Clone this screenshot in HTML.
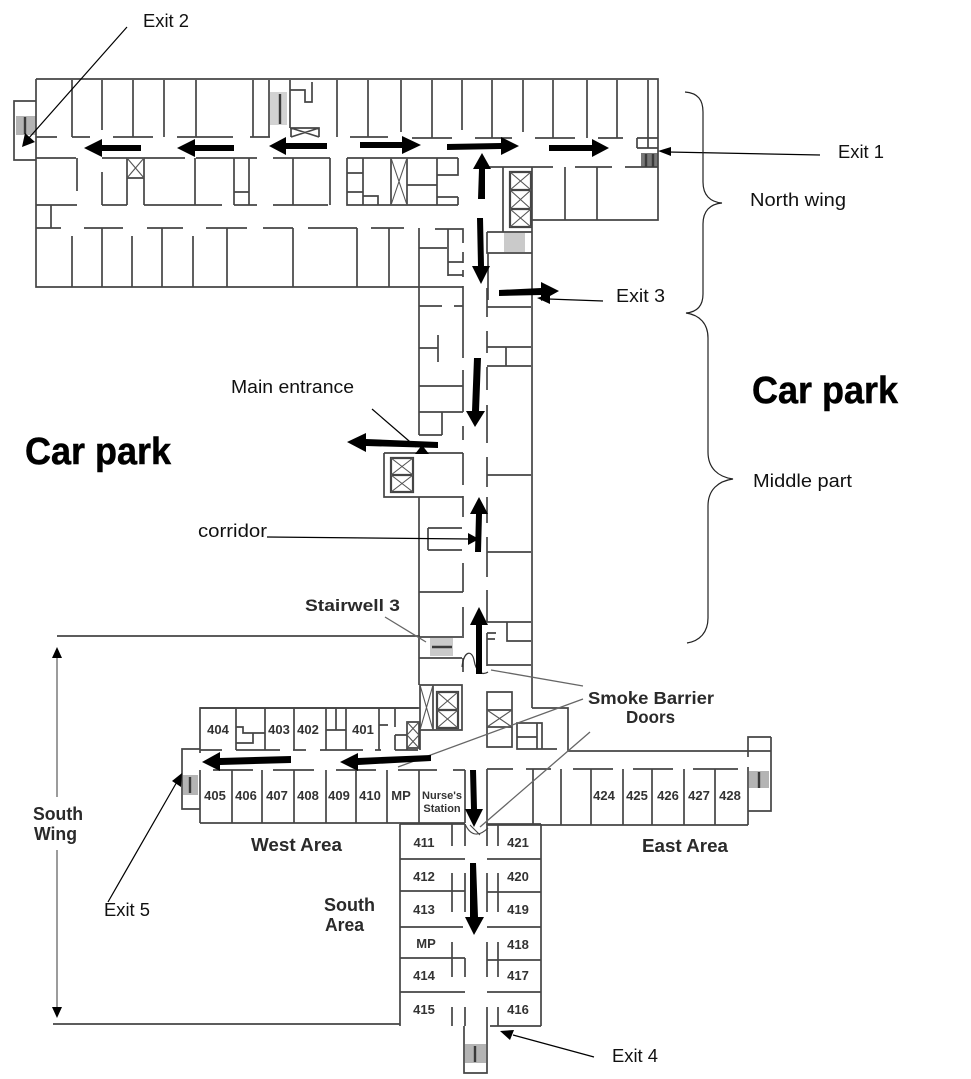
<!DOCTYPE html>
<html><head><meta charset="utf-8"><title>Floor plan</title>
<style>html,body{margin:0;padding:0;background:#fff}svg{display:block}
.w{fill:none;stroke:#454545;stroke-width:1.7}
.x{fill:none;stroke:#555;stroke-width:1.1}
.e{fill:none;stroke:#3a3a3a;stroke-width:2.4}
.g{fill:#b4b4b4;stroke:none}
.t{font-family:"Liberation Sans",sans-serif;font-size:18px;fill:#111}
.b{font-family:"Liberation Sans",sans-serif;font-weight:bold;fill:#2a2a2a}
.n{font-family:"Liberation Sans",sans-serif;font-weight:bold;font-size:13px;fill:#333;text-anchor:middle}
.a{fill:#000;stroke:none}
.l{fill:none;stroke:#000;stroke-width:1.2}
.s{fill:none;stroke:#666;stroke-width:1.3}
</style></head><body>
<svg width="971" height="1079" viewBox="0 0 971 1079" xmlns="http://www.w3.org/2000/svg">
<rect width="971" height="1079" fill="#fff"/>

<!-- gray stairs -->
<rect class="g" x="16" y="116" width="20" height="19"/>
<rect class="g" x="270" y="92" width="17" height="33" opacity=".6"/>
<rect class="g" x="641" y="153" width="17" height="14" style="fill:#777"/>
<rect class="g" x="504" y="233" width="21" height="19" opacity=".7"/>
<rect class="g" x="430" y="638" width="23" height="18" opacity=".7"/>
<rect class="g" x="183" y="775" width="15" height="20"/>
<rect class="g" x="749" y="771" width="20" height="17"/>
<rect class="g" x="465" y="1044" width="21" height="19"/>

<!-- North wing -->
<path class="w" d="M36 79H658V220H532M36 79V287H463
M36 137H57M72 137H90M113 137H153M177 137H233M250 137H270M290 128H319V137M291 128V137M319 128L291 137M291 128L319 137
M72 80V137M102 80V130M133 80V137M164 80V137M196 80V137M253 80V137M269 80V137M290 80V128M337 80V137
M290 90H305V102H312V82
M350 137H388M412 138H452M475 138H512M535 138H575M598 138H623M637 138H658M637 148H658M637 138V148
M368 80V137M401 80V132M432 80V138M462 80V130M492 80V138M523 80V132M553 80V138M587 80V138M617 80V138M648 80V148
M36 158H76M102 158H185M196 158H257M273 158H330
M77 158V191M102 172V205M127 158V205M144 158V205M127 178H144M195 158V205M234 158V205M249 158V205M234 192H249M293 158V205M330 158V205
M36 205H77M102 205H127M144 205H222M234 205H257M273 205H328
M51 205V228M36 228H61M84 228H123M147 228H183M206 228H247M263 228H293M308 228H357M371 228H404
M72 236V287M102 228V287M132 236V287M162 228V287M193 236V287M227 228V287M293 228V287M357 228V287M389 228V287
M347 158H458M347 158V205H458M458 158V175H437M458 197V205M437 197H458M363 158V205M347 173H363M347 192H363M391 158V205M407 158V205M407 185H437M437 158V205M363 196H378V205
M483 167H553M575 167H612M625 167H658M565 167V220M597 167V220M503 167V232"/>
<path class="x" d="M391 158L407 205M407 158L391 205M127 158L144 178M144 158L127 178"/>
<!-- Left exit stub -->
<path class="w" d="M36 101H14V160H36"/>
<path class="e" d="M25 117V134M280 94V124M646 154V167M653 154V167"/>
<!-- elevators north -->
<path class="w" d="M510 172H531V227H510ZM510 190H531M510 209H531" style="stroke-width:2.2"/>
<path class="x" d="M510 172L531 190M531 172L510 190M510 190L531 209M531 190L510 209M510 209L531 227M531 209L510 227"/>
<path class="w" d="M487 232H532V253H487V232M488 253V300M532 167V708"/>

<!-- Middle part -->
<path class="w" d="M419 228V435M435 229H463V243M463 252V263M463 270V277M419 248H447M448 229V276M448 262H463M448 275H463
M463 286V358M463 370V412M463 426V440M463 453V485M463 496V517M463 563V592M463 607V638M463 658V672
M419 306H442M454 306H463M419 348H438M438 335V362M419 386H463M419 412H463M442 412V435M419 435H442
M384 453H463M384 453V497H463M419 497V685
M487 288V317M487 331V353M487 367V390M487 405V443M487 457V487M487 497V523M487 537V577M487 590V622M487 633V666
M487 307H531M487 347H531M487 366H531M506 347V366M487 475H531M487 552H531M487 622H531M507 622V641H531M487 665H531
M487 633H496M487 639H495
M428 528H462M428 550H462M428 528V550
M419 592H463M419 637H462M419 658H462"/>
<path class="w" d="M391 458H413V475H391ZM391 475H413V492H391Z" style="stroke-width:2.2"/>
<path class="x" d="M391 458L413 475M413 458L391 475M391 475L413 492M413 475L391 492"/>
<path class="e" d="M432 647H452"/>
<path class="x" d="M462 667C464 650 472 650 474 660C476 672 482 676 488 672" style="stroke:#333;stroke-width:1.2"/>

<!-- elevator cluster -->
<path class="w" d="M420 685H462V730H420ZM433 685V730M420 708H200V753M420 730V750"/>
<path class="w" d="M437 692H458V710H437ZM437 710H458V728H437Z" style="stroke-width:2.2"/>
<path class="x" d="M437 692L458 710M458 692L437 710M437 710L458 728M458 710L437 728M420 685L433 730M433 685L420 730"/>
<path class="w" d="M487 692H512V747H487ZM487 710H512M487 727H512M517 723H542V749H517ZM517 737H537M537 723V749M542 749H557M532 708H568V751"/>
<path class="x" d="M487 710L512 727M512 710L487 727"/>

<!-- West -->
<path class="w" d="M200 708H418M200 823H465M200 750H222M236 750H280M293 750H306M320 750H363M375 750H381M395 750H418
M236 708V750M265 708V750M294 708V750M326 708V750M336 708V730M346 708V750M326 730H346M379 708V750M379 725H388M395 708V727
M236 727H243V733H265M253 733V743H236
M395 735H407V750M395 735V750M407 722H419V748H407Z
M200 770V823M213 770H253M273 770H314M336 770H376M398 770H437M453 770H465M232 770V823M262 770V823M294 770V823M326 770V823M356 770V823M387 770V823M419 770V823M465 770V823"/>
<path class="x" d="M407 722L419 735M419 722L407 735M407 735L419 748M419 735L407 748"/>
<path class="w" d="M200 749H182V809H200"/>
<path class="e" d="M190 777V793M759 772V788M475 1046V1062"/>

<!-- East -->
<path class="w" d="M568 751H771M771 737H748V757M771 737V811H748M748 767V825M487 825H748
M487 769H513M526 769H551M573 769H613M633 769H673M693 769H738M487 769V825M533 769V825M561 769V825M591 769V825M623 769V825M652 769V825M684 769V825M715 769V825"/>

<!-- South -->
<path class="w" d="M400 824V1026M400 824H465M487 824H541M541 824V1026M400 859H465M487 859H541M400 891H465M487 892H541M400 927H463M487 927H541M400 958H465M487 960H541M400 992H465M487 992H541M490 1026H541
M452 824V846M465 824V846M487 824V846M498 824V846M452 873V912M465 873V912M487 873V912M498 873V912
M452 942V977M465 958V977M487 942V977M498 942V977M452 1007V1026M465 1007V1026M487 1007V1026M498 1007V1026
M464 1026V1073H487V1026"/>
<path class="x" d="M465 824C470 835 478 838 488 828M470 825L480 835" style="stroke:#444"/>

<!-- dimension -->
<path class="w" d="M57 636H420M53 1024H400"/>
<path class="s" d="M57 656V797M57 850V1008"/>
<path class="a" d="M57 647L52 658H62ZM57 1018L52 1007H62Z"/>

<!-- gray leaders -->
<path class="s" d="M583 699L398 767M590 732L480 827M583 686L491 670M385 617L426 642"/>

<!-- thick arrows -->
<g class="a">
<path d="M84 148L102 139V145H141V151H102V157Z"/>
<path d="M177 148L195 139V145H234V151H195V157Z"/>
<path d="M269 146L286 137V143H327V149H286V155Z"/>
<path d="M421 145L402 136V142H360V148H402V154Z"/>
<path d="M519 146L501 137V143L447 144V150L501 149V155Z"/>
<path d="M609 148L592 139V145H549V151H592V157Z"/>
<path d="M482 153L491 169H485L485 199H478L479 169H473Z"/>
<path d="M481 284L472 266H478L477 218H483L484 266H490Z"/>
<path d="M559 291L541 282V288L499 290V296L541 295V301Z"/>
<path d="M475 427L466 411H472L474 358H481L479 411H485Z"/>
<path d="M347 442L366 433V439L438 442V448L366 446V452Z"/>
<path d="M479 497L488 514H482L481 552H475L476 514H470Z"/>
<path d="M479 607L488 625H482V674H476V625H470Z"/>
<path d="M202 762L220 752V758L291 756V763L220 765V771Z"/>
<path d="M340 762L358 753V758L431 755V761L358 765V771Z"/>
<path d="M474 827L465 809H471L470 770H476L477 809H483Z"/>
<path d="M474 935L465 917H470V863H476L478 917H484Z"/>
</g>

<!-- thin annotation arrows -->
<path class="l" d="M127 27L28 139M820 155L668 152M603 301L548 299M372 409L416 447M267 537L470 539M108 902L178 780M594 1057L513 1035"/>
<g class="a">
<path d="M22 147L25 133L35 142Z"/>
<path d="M658 151L671 147V156Z"/>
<path d="M537 298L550 294V304Z"/>
<path d="M415 454H429L422 445Z"/>
<path d="M479 539L468 533V545Z"/>
<path d="M182 773L172 781L181 787Z"/>
<path d="M500 1031L514 1030L510 1040Z"/>
</g>

<!-- braces -->
<path class="l" style="stroke:#222" d="M685 92C698 93 703 100 703 112V182C703 195 710 202 722 203C710 204 703 211 703 224V294C703 306 697 312 686 313C700 315 708 324 708 338V452C708 468 718 477 733 479C718 481 708 490 708 506V618C708 632 700 641 687 643"/>

<!-- labels -->
<text class="t" x="143" y="27" textLength="46" lengthAdjust="spacingAndGlyphs">Exit 2</text>
<text class="t" x="838" y="158" textLength="46" lengthAdjust="spacingAndGlyphs">Exit 1</text>
<text class="t" x="750" y="206" textLength="96" lengthAdjust="spacingAndGlyphs">North wing</text>
<text class="t" x="616" y="302" textLength="49" lengthAdjust="spacingAndGlyphs">Exit  3</text>
<text class="t" x="231" y="393" textLength="123" lengthAdjust="spacingAndGlyphs">Main entrance</text>
<text class="t" x="753" y="487" textLength="99" lengthAdjust="spacingAndGlyphs">Middle part</text>
<text class="t" x="198" y="537" textLength="69" lengthAdjust="spacingAndGlyphs">corridor</text>
<text class="t" x="104" y="916" textLength="46" lengthAdjust="spacingAndGlyphs">Exit 5</text>
<text class="t" x="612" y="1062" textLength="46" lengthAdjust="spacingAndGlyphs">Exit 4</text>
<text x="752" y="403" font-family="Liberation Sans,sans-serif" font-weight="bold" font-size="38" fill="#000" textLength="146" lengthAdjust="spacingAndGlyphs" stroke="#000" stroke-width=".5">Car park</text>
<text x="25" y="464" font-family="Liberation Sans,sans-serif" font-weight="bold" font-size="38" fill="#000" textLength="146" lengthAdjust="spacingAndGlyphs" stroke="#000" stroke-width=".5">Car park</text>

<text class="b" font-size="17" x="305" y="611" textLength="95" lengthAdjust="spacingAndGlyphs">Stairwell 3</text>
<text class="b" font-size="17.5" x="588" y="704" textLength="126" lengthAdjust="spacingAndGlyphs">Smoke Barrier</text>
<text class="b" font-size="17.5" x="626" y="723" textLength="49" lengthAdjust="spacingAndGlyphs">Doors</text>
<text class="b" font-size="18.5" x="251" y="851" textLength="91" lengthAdjust="spacingAndGlyphs">West Area</text>
<text class="b" font-size="18.5" x="642" y="852" textLength="86" lengthAdjust="spacingAndGlyphs">East Area</text>
<text class="b" font-size="18" x="324" y="911" textLength="51" lengthAdjust="spacingAndGlyphs">South</text>
<text class="b" font-size="18" x="325" y="931" textLength="39" lengthAdjust="spacingAndGlyphs">Area</text>
<text class="b" font-size="18" x="33" y="820" textLength="50" lengthAdjust="spacingAndGlyphs">South</text>
<text class="b" font-size="18" x="34" y="840" textLength="43" lengthAdjust="spacingAndGlyphs">Wing</text>

<g>
<text class="n" x="218" y="734">404</text><text class="n" x="279" y="734">403</text><text class="n" x="308" y="734">402</text><text class="n" x="363" y="734">401</text>
<text class="n" x="215" y="800">405</text><text class="n" x="246" y="800">406</text><text class="n" x="277" y="800">407</text><text class="n" x="308" y="800">408</text><text class="n" x="339" y="800">409</text><text class="n" x="370" y="800">410</text><text class="n" x="401" y="800">MP</text>
<text class="n" x="442" y="799" style="font-size:11px">Nurse's</text><text class="n" x="442" y="812" style="font-size:11px">Station</text>
<text class="n" x="604" y="800">424</text><text class="n" x="637" y="800">425</text><text class="n" x="668" y="800">426</text><text class="n" x="699" y="800">427</text><text class="n" x="730" y="800">428</text>
<text class="n" x="424" y="847">411</text><text class="n" x="424" y="881">412</text><text class="n" x="424" y="914">413</text><text class="n" x="426" y="948">MP</text><text class="n" x="424" y="980">414</text><text class="n" x="424" y="1014">415</text>
<text class="n" x="518" y="847">421</text><text class="n" x="518" y="881">420</text><text class="n" x="518" y="914">419</text><text class="n" x="518" y="949">418</text><text class="n" x="518" y="980">417</text><text class="n" x="518" y="1014">416</text>
</g>
</svg>
</body></html>
